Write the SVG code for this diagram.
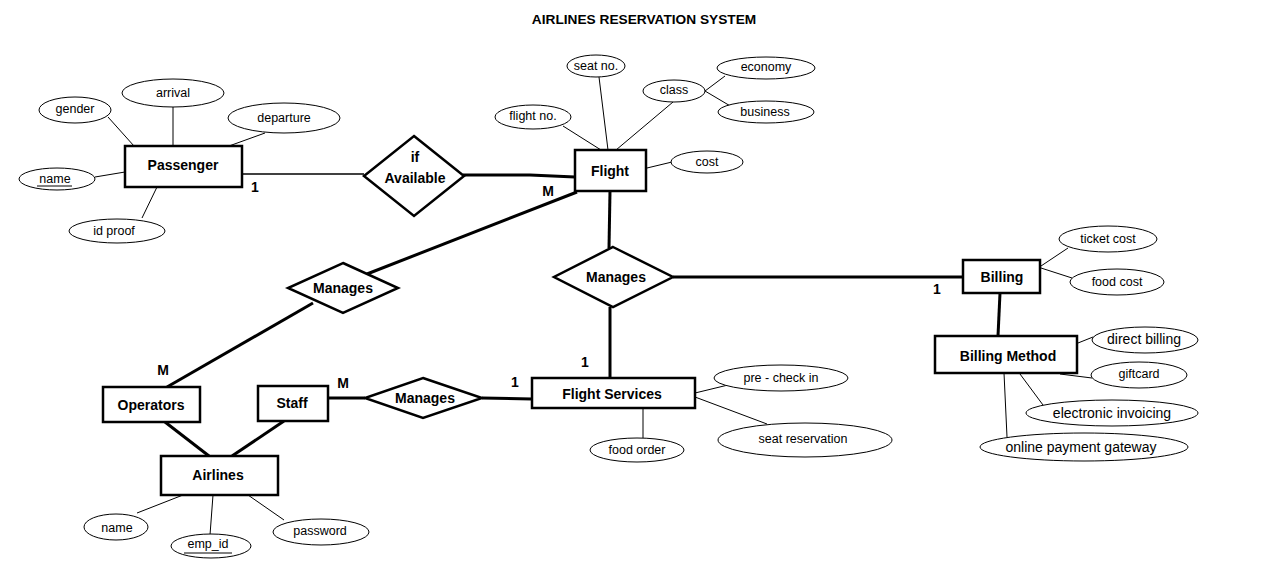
<svg xmlns="http://www.w3.org/2000/svg" width="1280" height="584" viewBox="0 0 1280 584">
<style>
.bg{fill:#fff}
.ent{fill:#fff;stroke:#000;stroke-width:2.5}
.rel{fill:#fff;stroke:#000;stroke-width:2.5;stroke-linejoin:miter}
.att{fill:#fff;stroke:#000;stroke-width:1}
.thin{stroke:#000;stroke-width:1;fill:none}
.thick{stroke:#000;stroke-width:3;fill:none}
.et{font-family:"Liberation Sans",Arial,sans-serif;font-weight:bold;font-size:14px;text-anchor:middle;dominant-baseline:central;fill:#000}
.at{font-family:"Liberation Sans",Arial,sans-serif;font-size:12.5px;text-anchor:middle;dominant-baseline:central;fill:#000}
.card{font-family:"Liberation Sans",Arial,sans-serif;font-weight:bold;font-size:14px;text-anchor:middle;dominant-baseline:central;fill:#000}
.title{font-family:"Liberation Sans",Arial,sans-serif;font-weight:bold;font-size:13.7px;text-anchor:middle;dominant-baseline:central;fill:#000}
</style>
<rect class="bg" x="0" y="0" width="1280" height="584"/>
<text class="title" x="644" y="19">AIRLINES RESERVATION SYSTEM</text>

<g id="connectors">
  <!-- Passenger attributes -->
  <line class="thin" x1="108" y1="117" x2="134" y2="146"/>
  <line class="thin" x1="173" y1="107" x2="173" y2="146"/>
  <line class="thin" x1="265" y1="133" x2="229" y2="146"/>
  <line class="thin" x1="95" y1="177" x2="125" y2="172"/>
  <line class="thin" x1="142" y1="218" x2="157" y2="187"/>
  <!-- Flight attributes -->
  <line class="thin" x1="599" y1="77" x2="608" y2="150"/>
  <line class="thin" x1="563" y1="126" x2="601" y2="150"/>
  <line class="thin" x1="673" y1="102" x2="616" y2="150"/>
  <line class="thin" x1="705" y1="91" x2="725" y2="76"/>
  <line class="thin" x1="705" y1="91" x2="732" y2="107"/>
  <line class="thin" x1="647" y1="168" x2="672" y2="162"/>
  <!-- Billing attributes -->
  <line class="thin" x1="1041" y1="266" x2="1068" y2="248"/>
  <line class="thin" x1="1041" y1="268" x2="1072" y2="278"/>
  <line class="thin" x1="1078" y1="343" x2="1093" y2="337"/>
  <line class="thin" x1="1060" y1="374" x2="1092" y2="378"/>
  <line class="thin" x1="1020" y1="374" x2="1043" y2="405"/>
  <line class="thin" x1="1004" y1="373" x2="1007" y2="437"/>
  <!-- Flight Services attributes -->
  <line class="thin" x1="695" y1="393" x2="728" y2="385"/>
  <line class="thin" x1="695" y1="397" x2="767" y2="424"/>
  <line class="thin" x1="643" y1="408" x2="643" y2="438"/>
  <!-- Airlines attributes -->
  <line class="thin" x1="137" y1="513" x2="183" y2="495"/>
  <line class="thin" x1="213" y1="495" x2="210" y2="535"/>
  <line class="thin" x1="248" y1="495" x2="284" y2="520"/>
  <!-- Relationships -->
  <line class="thin" style="stroke-width:1.5" x1="242" y1="174" x2="364" y2="174"/>
  <polyline class="thick" points="463,175 530,175 575,177"/>
  <line class="thick" x1="610" y1="191" x2="609" y2="248"/>
  <line class="thick" x1="673" y1="277" x2="963" y2="277"/>
  <line class="thick" x1="610" y1="307" x2="610" y2="378"/>
  <line class="thick" x1="1000" y1="293" x2="998" y2="336"/>
  <line class="thick" x1="577" y1="192" x2="367" y2="274"/>
  <line class="thick" x1="313" y1="303" x2="167" y2="387"/>
  <line class="thick" x1="328" y1="398" x2="365" y2="398"/>
  <line class="thick" x1="482" y1="398" x2="532" y2="399"/>
  <line class="thick" x1="165" y1="422" x2="209" y2="456"/>
  <line class="thick" x1="284" y1="421" x2="232" y2="456"/>
</g>

<g id="passenger">
  <rect class="ent" x="125" y="146" width="117" height="41"/>
  <text class="et" x="183" y="165">Passenger</text>
</g>
<g id="attr-gender"><ellipse class="att" cx="75" cy="110" rx="36" ry="13"/><text class="at" x="75" y="109">gender</text></g>
<g id="attr-arrival"><ellipse class="att" cx="173" cy="93" rx="51" ry="14"/><text class="at" x="173" y="93">arrival</text></g>
<g id="attr-departure"><ellipse class="att" cx="284" cy="118" rx="56" ry="15"/><text class="at" x="284" y="118">departure</text></g>
<g id="attr-name-p"><ellipse class="att" cx="57" cy="179" rx="38" ry="11"/><text class="at" x="55" y="179">name</text><line class="thin" x1="37" y1="186" x2="72" y2="186"/></g>
<g id="attr-idproof"><ellipse class="att" cx="117" cy="231" rx="48" ry="12"/><text class="at" x="114" y="231">id proof</text></g>

<g id="rel-ifavailable">
  <polygon class="rel" points="414,136 464,176 414,216 364,176"/>
  <text class="et" x="415" y="157">if</text>
  <text class="et" x="415" y="178">Available</text>
</g>

<g id="flight">
  <rect class="ent" x="575" y="150" width="71" height="41"/>
  <text class="et" x="610" y="171">Flight</text>
</g>
<g id="attr-seatno"><ellipse class="att" cx="596" cy="66" rx="29" ry="11"/><text class="at" x="596" y="66">seat no.</text></g>
<g id="attr-flightno"><ellipse class="att" cx="533" cy="117" rx="38" ry="12"/><text class="at" x="533" y="116">flight no.</text></g>
<g id="attr-class"><ellipse class="att" cx="674" cy="91" rx="31" ry="11"/><text class="at" x="674" y="90">class</text></g>
<g id="attr-economy"><ellipse class="att" cx="766" cy="68" rx="49" ry="11"/><text class="at" x="766" y="67">economy</text></g>
<g id="attr-business"><ellipse class="att" cx="766" cy="112" rx="48" ry="11"/><text class="at" x="765" y="112">business</text></g>
<g id="attr-cost"><ellipse class="att" cx="707" cy="162" rx="36" ry="11"/><text class="at" x="707" y="162">cost</text></g>

<g id="rel-manages-mid">
  <polygon class="rel" points="613,247 673,277 613,307 554,277"/>
  <text class="et" x="616" y="277">Manages</text>
</g>

<g id="billing">
  <rect class="ent" x="963" y="260" width="77" height="33"/>
  <text class="et" x="1002" y="277">Billing</text>
</g>
<g id="attr-ticketcost"><ellipse class="att" cx="1108" cy="239" rx="49" ry="13"/><text class="at" x="1108" y="239">ticket cost</text></g>
<g id="attr-foodcost"><ellipse class="att" cx="1117" cy="282" rx="47" ry="13"/><text class="at" x="1117" y="282">food cost</text></g>

<g id="billing-method">
  <rect class="ent" x="935" y="336" width="142" height="37"/>
  <text class="et" x="1008" y="356">Billing Method</text>
</g>
<g id="attr-directbilling"><ellipse class="att" cx="1145" cy="340" rx="53" ry="13"/><text class="at" x="1144" y="339" style="font-size:14px">direct billing</text></g>
<g id="attr-giftcard"><ellipse class="att" cx="1139" cy="375" rx="48" ry="13"/><text class="at" x="1139" y="374">giftcard</text></g>
<g id="attr-einvoicing"><ellipse class="att" cx="1112" cy="413" rx="86" ry="13"/><text class="at" x="1112" y="413" style="font-size:14px">electronic invoicing</text></g>
<g id="attr-onlinepay"><ellipse class="att" cx="1084" cy="447" rx="104" ry="14"/><text class="at" x="1081" y="447" style="font-size:14px">online payment gateway</text></g>

<g id="flight-services">
  <rect class="ent" x="532" y="378" width="163" height="30"/>
  <text class="et" x="612" y="394">Flight Services</text>
</g>
<g id="attr-precheckin"><ellipse class="att" cx="781" cy="378" rx="67" ry="13"/><text class="at" x="781" y="378">pre - check in</text></g>
<g id="attr-seatres"><ellipse class="att" cx="805" cy="440" rx="87" ry="17"/><text class="at" x="803" y="439">seat reservation</text></g>
<g id="attr-foodorder"><ellipse class="att" cx="637" cy="450" rx="47" ry="12"/><text class="at" x="637" y="450">food order</text></g>

<g id="rel-manages-left">
  <polygon class="rel" points="343,263 398,288 343,313 288,288"/>
  <text class="et" x="343" y="288">Manages</text>
</g>

<g id="operators">
  <rect class="ent" x="103" y="387" width="97" height="35"/>
  <text class="et" x="151" y="405">Operators</text>
</g>
<g id="staff">
  <rect class="ent" x="258" y="386" width="70" height="35"/>
  <text class="et" x="292" y="403">Staff</text>
</g>

<g id="rel-manages-bottom">
  <polygon class="rel" points="423,378 482,398 423,418 365,398"/>
  <text class="et" x="425" y="398">Manages</text>
</g>

<g id="airlines">
  <rect class="ent" x="161" y="456" width="117" height="39"/>
  <text class="et" x="218" y="475">Airlines</text>
</g>
<g id="attr-name-a"><ellipse class="att" cx="116" cy="527" rx="32" ry="13"/><text class="at" x="117" y="528">name</text></g>
<g id="attr-empid"><ellipse class="att" cx="211" cy="546" rx="40" ry="12"/><text class="at" x="208" y="544">emp_id</text><line class="thin" x1="184" y1="553" x2="232" y2="553"/></g>
<g id="attr-password"><ellipse class="att" cx="321" cy="532" rx="48" ry="13"/><text class="at" x="320" y="531">password</text></g>

<g id="cardinalities">
  <text class="card" x="255" y="187">1</text>
  <text class="card" x="548" y="191">M</text>
  <text class="card" x="937" y="289">1</text>
  <text class="card" x="585" y="362">1</text>
  <text class="card" x="163" y="370">M</text>
  <text class="card" x="343" y="383">M</text>
  <text class="card" x="515" y="382">1</text>
</g>
</svg>
